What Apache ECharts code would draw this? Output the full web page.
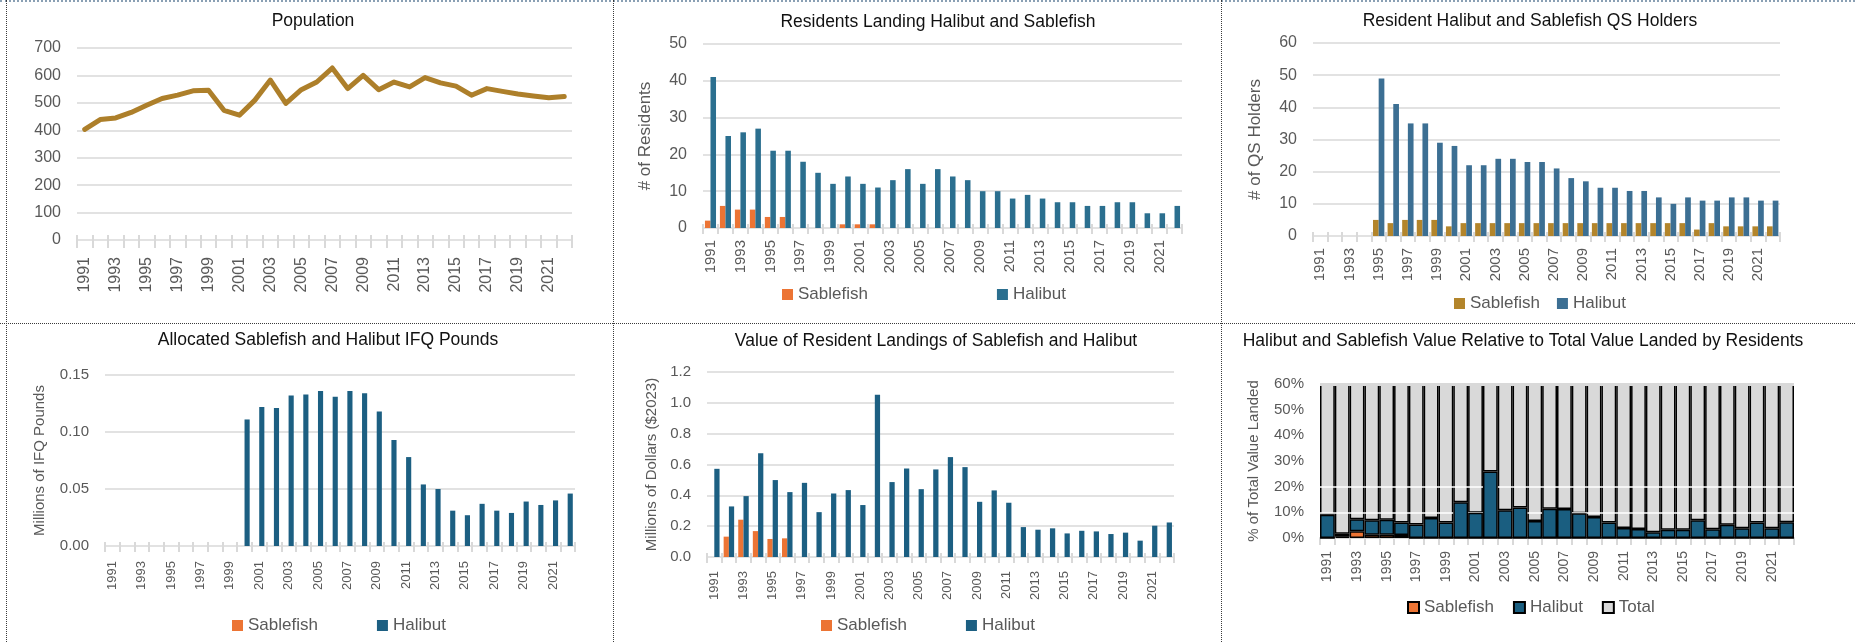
<!DOCTYPE html>
<html>
<head>
<meta charset="utf-8">
<title>Resident halibut and sablefish fishery profile</title>
<script src="https://cdn.jsdelivr.net/npm/echarts@6/dist/echarts.min.js"></script>
<style>
  body { margin: 0; background: #fff; width: 1855px; height: 642px; position: relative; overflow: hidden; }
  .panel { position: absolute; }
  .rule { position: absolute; border: 0 dotted #3a3a3a; }
</style>
</head>
<body>
<!-- panel frame rules -->
<div class="rule" style="left:0;top:0;width:1855px;border-top-width:2px;border-top-color:#8aa0b4"></div>
<div class="rule" style="left:6px;top:0;height:642px;border-left-width:1px"></div>
<div class="rule" style="left:613px;top:0;height:642px;border-left-width:1px"></div>
<div class="rule" style="left:1221px;top:0;height:642px;border-left-width:1px"></div>
<div class="rule" style="left:0;top:323px;width:1855px;border-top-width:1px"></div>

<div id="p1" class="panel" style="left:7px;top:2px;width:606px;height:320px"></div>
<div id="p2" class="panel" style="left:614px;top:2px;width:607px;height:320px"></div>
<div id="p3" class="panel" style="left:1222px;top:2px;width:633px;height:320px"></div>
<div id="p4" class="panel" style="left:7px;top:324px;width:606px;height:318px"></div>
<div id="p5" class="panel" style="left:614px;top:324px;width:607px;height:318px"></div>
<div id="p6" class="panel" style="left:1222px;top:324px;width:633px;height:318px"></div>

<script>
// ---- data ----
const years = ['1991','1992','1993','1994','1995','1996','1997','1998','1999','2000',
  '2001','2002','2003','2004','2005','2006','2007','2008','2009','2010',
  '2011','2012','2013','2014','2015','2016','2017','2018','2019','2020','2021','2022'];

const population = [403, 439, 445, 465, 491, 516, 528, 544, 546, 473,
  455, 510, 583, 498, 548, 576, 627, 552, 600, 548,
  576, 558, 592, 573, 561, 528, 552, 542, 532, 525, 519, 523];

const residentsSablefish = [2, 6, 5, 5, 3, 3, 0, 0, 0, 1,
  1, 1, 0, 0, 0, 0, 0, 0, 0, 0,
  0, 0, 0, 0, 0, 0, 0, 0, 0, 0, 0, 0];
const residentsHalibut = [41, 25, 26, 27, 21, 21, 18, 15, 12, 14,
  12, 11, 13, 16, 12, 16, 14, 13, 10, 10,
  8, 9, 8, 7, 7, 6, 6, 7, 7, 4, 4, 6];

const qsSablefish = [null, null, null, null, 5, 4, 5, 5, 5, 3,
  4, 4, 4, 4, 4, 4, 4, 4, 4, 4,
  4, 4, 4, 4, 4, 4, 2, 4, 3, 3, 3, 3];
const qsHalibut = [null, null, null, null, 49, 41, 35, 35, 29, 28,
  22, 22, 24, 24, 23, 23, 21, 18, 17, 15,
  15, 14, 14, 12, 10, 12, 11, 11, 12, 12, 11, 11];

const ifqSablefish = [0, 0, 0, 0, 0, 0, 0, 0, 0, 0,
  0, 0, 0, 0, 0, 0, 0, 0, 0, 0,
  0, 0, 0, 0, 0, 0, 0, 0, 0, 0, 0, 0];
const ifqHalibut = [0, 0, 0, 0, 0, 0, 0, 0, 0, 0.111,
  0.122, 0.121, 0.132, 0.133, 0.136, 0.131, 0.136, 0.134, 0.118, 0.093,
  0.078, 0.054, 0.050, 0.031, 0.027, 0.037, 0.031, 0.029, 0.039, 0.036, 0.040, 0.046];

const valueSablefish = [0, 0.132, 0.242, 0.168, 0.117, 0.121, 0, 0, 0, 0,
  0, 0, 0, 0, 0, 0, 0, 0, 0, 0,
  0, 0, 0, 0, 0, 0, 0, 0, 0, 0, 0, 0];
const valueHalibut = [0.572, 0.328, 0.395, 0.673, 0.499, 0.421, 0.481, 0.291, 0.412, 0.434,
  0.337, 1.053, 0.486, 0.574, 0.440, 0.568, 0.648, 0.583, 0.358, 0.432,
  0.352, 0.194, 0.177, 0.186, 0.153, 0.170, 0.166, 0.149, 0.158, 0.106, 0.203, 0.224];

// share of total value landed by residents, percent
const shareSablefish = [0, 0.5, 2.6, 1.3, 1.3, 1.2, 0, 0, 0, 0,
  0, 0, 0, 0, 0, 0, 0, 0, 0, 0,
  0, 0, 0, 0, 0, 0, 0, 0, 0, 0, 0, 0];
const shareHalibut = [9.1, 1.2, 4.7, 5.6, 5.8, 4.8, 5.3, 7.8, 6.0, 13.9,
  9.8, 25.9, 10.8, 11.9, 6.6, 11.4, 11.3, 9.6, 8.2, 6.0,
  3.9, 3.5, 2.2, 3.2, 3.2, 6.9, 3.4, 5.2, 3.8, 6.0, 3.8, 6.1];
const shareTotal = [100, 100, 100, 100, 100, 100, 100, 100, 100, 100,
  100, 100, 100, 100, 100, 100, 100, 100, 100, 100,
  100, 100, 100, 100, 100, 100, 100, 100, 100, 100, 100, 100];

// ---- shared styling ----
const FONT = "'Liberation Sans', Arial, sans-serif";
const LABEL = '#595959';
const RULE = '#d9d9d9';

function title(text, cx, cy) {
  return {
    text, left: cx, top: cy - 10, textAlign: 'center', padding: 0,
    textStyle: { fontSize: 17.5, fontWeight: 'normal', color: '#111', fontFamily: FONT }
  };
}

function legend(left, cy, gap, names) {
  return {
    left, top: cy - 9, itemGap: gap, itemWidth: 11, itemHeight: 11, icon: 'rect',
    padding: 0, data: names, selectedMode: false,
    textStyle: { color: LABEL, fontSize: 17, fontFamily: FONT }
  };
}

// Category axis whose ticks straddle the zero line: the axis is lifted by `lift`
// pixels and its own line hidden; the value axis' zero split line stands in for it.
function catAxis(fontSize, margin, lift, tickLen) {
  return {
    type: 'category', data: years, boundaryGap: true, offset: -lift,
    axisLine: { show: lift === 0, lineStyle: { color: RULE, width: 2 } },
    axisTick: { show: true, interval: 0, length: tickLen, alignWithLabel: false, lineStyle: { color: RULE, width: 2 } },
    axisLabel: { interval: 1, rotate: 90, color: LABEL, fontSize, fontFamily: FONT, margin: margin + lift }
  };
}

function valAxis(o) {
  const ax = {
    type: 'value', min: 0, max: o.max, interval: o.interval,
    axisLine: { show: false }, axisTick: { show: false },
    axisLabel: { color: LABEL, fontSize: o.fontSize, fontFamily: FONT, margin: 16,
      formatter: o.fmt || (v => String(v)) },
    splitLine: { show: o.split !== false, lineStyle: { color: RULE, width: 1.5 } }
  };
  if (o.name) {
    Object.assign(ax, {
      name: o.name, nameLocation: 'middle', nameGap: o.nameGap,
      nameTextStyle: { color: LABEL, fontSize: o.nameSize, fontFamily: FONT }
    });
  }
  return ax;
}

function bar(name, data, color, extra) {
  return Object.assign({
    type: 'bar', name, data, barGap: '0%',
    itemStyle: { color }, emphasis: { disabled: true }
  }, extra || {});
}

function draw(id, option) {
  const chart = echarts.init(document.getElementById(id), null, { renderer: 'canvas' });
  option.animation = false;
  chart.setOption(option);
}

// ---- Population ----
draw('p1', {
  title: title('Population', 306, 20),
  grid: { left: 70, top: 46, width: 495, height: 192, outerBoundsMode: 'none' },
  xAxis: catAxis(16, 17, 5, 13),
  yAxis: valAxis({ max: 700, interval: 100, fontSize: 16 }),
  series: [{
    type: 'line', name: 'Population', data: population, symbol: 'none',
    lineStyle: { color: '#ad7f2a', width: 5, join: 'round', cap: 'round' },
    itemStyle: { color: '#ad7f2a' }, emphasis: { disabled: true }
  }]
});

// ---- Residents landing ----
draw('p2', {
  title: title('Residents Landing Halibut and Sablefish', 324, 21),
  legend: legend(168, 293, 129, ['Sablefish', 'Halibut']),
  grid: { left: 89, top: 42, width: 479, height: 184, outerBoundsMode: 'none' },
  xAxis: catAxis(15, 12, 4, 10),
  yAxis: valAxis({ max: 50, interval: 10, fontSize: 16, name: '# of Residents', nameGap: 49, nameSize: 17 }),
  series: [
    bar('Sablefish', residentsSablefish, '#ec7434', { barCategoryGap: '26%' }),
    bar('Halibut', residentsHalibut, '#2b6f8f', { barCategoryGap: '26%' })
  ]
});

// ---- QS holders ----
draw('p3', {
  title: title('Resident Halibut and Sablefish QS Holders', 308, 20),
  legend: legend(232, 302, 17, ['Sablefish', 'Halibut']),
  grid: { left: 91, top: 41, width: 467, height: 193, outerBoundsMode: 'none' },
  xAxis: catAxis(15, 12, 4, 10),
  yAxis: valAxis({ max: 60, interval: 10, fontSize: 16, name: '# of QS Holders', nameGap: 49, nameSize: 17 }),
  series: [
    bar('Sablefish', qsSablefish, '#b3852b', { barCategoryGap: '22%' }),
    bar('Halibut', qsHalibut, '#3c6f93', { barCategoryGap: '22%' })
  ]
});

// ---- Allocated IFQ pounds ----
draw('p4', {
  title: title('Allocated Sablefish and Halibut IFQ Pounds', 321, 17),
  legend: legend(225, 302, 59, ['Sablefish', 'Halibut']),
  grid: { left: 98, top: 51, width: 470, height: 171, outerBoundsMode: 'none' },
  xAxis: catAxis(13, 15, 4, 10),
  yAxis: valAxis({ max: 0.15, interval: 0.05, fontSize: 15, fmt: v => v.toFixed(2),
    name: 'Millions of IFQ Pounds', nameGap: 58, nameSize: 15 }),
  series: [
    bar('Sablefish', ifqSablefish, '#ec7434', { barCategoryGap: '30%' }),
    bar('Halibut', ifqHalibut, '#1c5f82', { barCategoryGap: '30%' })
  ]
});

// ---- Value of landings ----
draw('p5', {
  title: title('Value of Resident Landings of Sablefish and Halibut', 322, 18),
  legend: legend(207, 302, 59, ['Sablefish', 'Halibut']),
  grid: { left: 93, top: 48, width: 467, height: 185, outerBoundsMode: 'none' },
  xAxis: catAxis(13, 14, 4, 10),
  yAxis: valAxis({ max: 1.2, interval: 0.2, fontSize: 15, fmt: v => v.toFixed(1),
    name: 'Millions of Dollars ($2023)', nameGap: 45, nameSize: 15 }),
  series: [
    bar('Sablefish', valueSablefish, '#ec7434', { barCategoryGap: '28%' }),
    bar('Halibut', valueHalibut, '#1c5f82', { barCategoryGap: '28%' })
  ]
});

// ---- Share of total value landed ----
const remainder = shareTotal.map((t, i) => t - shareHalibut[i] - shareSablefish[i]);
const edge = { borderColor: '#000', borderWidth: 1.5 };
draw('p6', {
  title: title('Halibut and Sablefish Value Relative to Total Value Landed by Residents', 301, 18),
  legend: legend(185, 284, 19, ['Sablefish', 'Halibut', 'Total']),
  grid: { left: 98, top: 60, width: 474, height: 154, outerBoundsMode: 'none' },
  xAxis: catAxis(14, 13, 0, 7),
  yAxis: valAxis({ max: 60, interval: 10, fontSize: 15, fmt: v => v + '%', split: false,
    name: '% of Total Value Landed', nameGap: 59, nameSize: 15 }),
  series: [
    bar('Sablefish', shareSablefish, '#ec7434', { stack: 'v', barCategoryGap: '0%', z: 6,
      itemStyle: Object.assign({ color: '#ec7434' }, edge) }),
    bar('Halibut', shareHalibut, '#1a5e80', { stack: 'v', barCategoryGap: '0%', z: 6,
      itemStyle: Object.assign({ color: '#1a5e80' }, edge) }),
    bar('Total', remainder, '#d9d9d9', { stack: 'v', barCategoryGap: '0%', z: 2,
      itemStyle: Object.assign({ color: '#d9d9d9' }, edge),
      markLine: {
        silent: true, symbol: 'none', z: 4, label: { show: false },
        lineStyle: { color: '#ffffff', width: 1.5, type: 'solid' },
        data: [
          { yAxis: 10 }, { yAxis: 20 },
          // the columns run past the axis top; soften their clipped upper edge
          { yAxis: 60, lineStyle: { color: '#d9d9d9', width: 3 } }
        ]
      } })
  ]
});
</script>
</body>
</html>
